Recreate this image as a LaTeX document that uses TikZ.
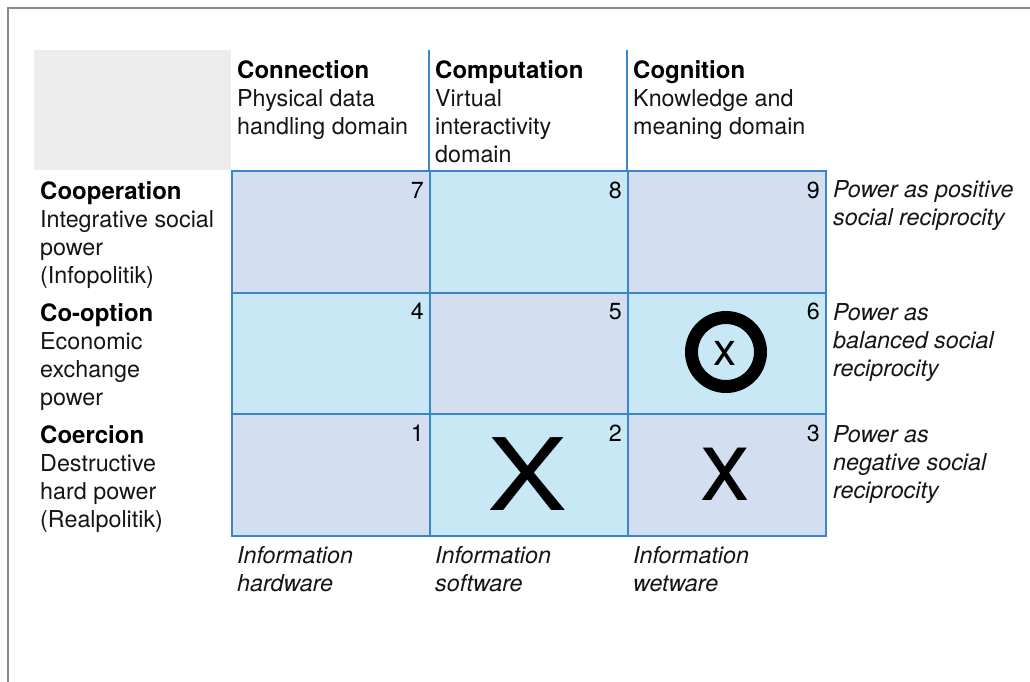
\documentclass[tikz,border=0pt]{standalone}
\usepackage{fontspec}
\setmainfont{TeX Gyre Heros}
\definecolor{lav}{HTML}{D3DFF0}
\definecolor{sky}{HTML}{C8E8F5}
\definecolor{edge}{HTML}{3B86C8}
\definecolor{greybox}{HTML}{ECECEC}
\definecolor{frame}{HTML}{8A8A8A}
\definecolor{txt}{HTML}{151515}
\newcommand{\hd}[1]{{\fontsize{24}{28}\selectfont\bfseries\color{black}#1}}
\tikzset{
  cellbox/.style={draw=edge, line width=2pt, minimum width=198pt, minimum height=121.7pt, anchor=north west, inner sep=0pt},
  lavcell/.style={cellbox, fill=lav},
  skycell/.style={cellbox, fill=sky},
  lbl/.style={anchor=north west, inner sep=0pt, align=left, text=txt, font=\fontsize{23.3}{28}\selectfont},
  ilbl/.style={lbl, font=\fontsize{23.3}{28}\selectfont\itshape},
  num/.style={anchor=base east, inner sep=0pt, text=black, font=\fontsize{23.3}{28}\selectfont},
  hdrline/.style={draw=edge, line width=2pt}
}
\begin{document}
\begin{tikzpicture}[x=1pt,y=-1pt]
\useasboundingbox (0,0) rectangle (1030,682);
% frame
\draw[frame, line width=1.5pt] (8,682) -- (8,8) -- (1030,8);
% grey corner box
\fill[greybox] (34,50) rectangle (231,170);
% cells
\node[lavcell] (c7) at (231,170) {};
\node[skycell] (c8) at (429,170) {};
\node[lavcell] (c9) at (627,170) {};
\node[skycell] (c4) at (231,291.7) {};
\node[lavcell] (c5) at (429,291.7) {};
\node[skycell] (c6) at (627,291.7) {};
\node[lavcell] (c1) at (231,413.4) {};
\node[skycell] (c2) at (429,413.4) {};
\node[lavcell] (c3) at (627,413.4) {};
% header separators
\draw[hdrline] (c8.north west) -- ++(0,-120);
\draw[hdrline] (c9.north west) -- ++(0,-120);
% numbers
\foreach \n in {1,...,9}{
  \node[num] (n\n) at ([xshift=-7pt,yshift=-28pt]c\n.north east) {\n};
}
% column headers
\node[lbl] (h1) at (237,60) {\hd{Connection}\\Physical data\\handling domain};
\node[lbl] (h2) at (435,60) {\hd{Computation}\\Virtual\\interactivity\\domain};
\node[lbl] (h3) at (633,60) {\hd{Cognition}\\Knowledge and\\meaning domain};
% row headers
\node[lbl] (r3) at (40,181) {\hd{Cooperation}\\Integrative social\\power\\(Infopolitik)};
\node[lbl] (r2) at (40,303) {\hd{Co-option}\\Economic\\exchange\\power};
\node[lbl] (r1) at (40,425) {\hd{Coercion}\\Destructive\\hard power\\(Realpolitik)};
% right labels
\node[ilbl] (p3) at (833,180) {Power as positive\\social reciprocity};
\node[ilbl] (p2) at (833,303) {Power as\\balanced social\\reciprocity};
\node[ilbl] (p1) at (833,425) {Power as\\negative social\\reciprocity};
% bottom labels
\node[ilbl] (b1) at (237,546) {Information\\hardware};
\node[ilbl] (b2) at (435,546) {Information\\software};
\node[ilbl] (b3) at (633,546) {Information\\wetware};
% marks
\node[anchor=base, inner sep=0pt, font=\fontsize{100}{100}\selectfont] (bigX) at (528,510) {\scalebox{1.2}[1]{X}};
\node[anchor=base, inner sep=0pt, font=\fontsize{100}{100}\selectfont] (smallx) at (725,500) {x};
\draw[line width=13pt] (726,352) circle[radius=34.5pt];
\node[anchor=base, inner sep=0pt, font=\fontsize{46}{46}\selectfont] (circx) at (725,365) {x};
\end{tikzpicture}
\end{document}
